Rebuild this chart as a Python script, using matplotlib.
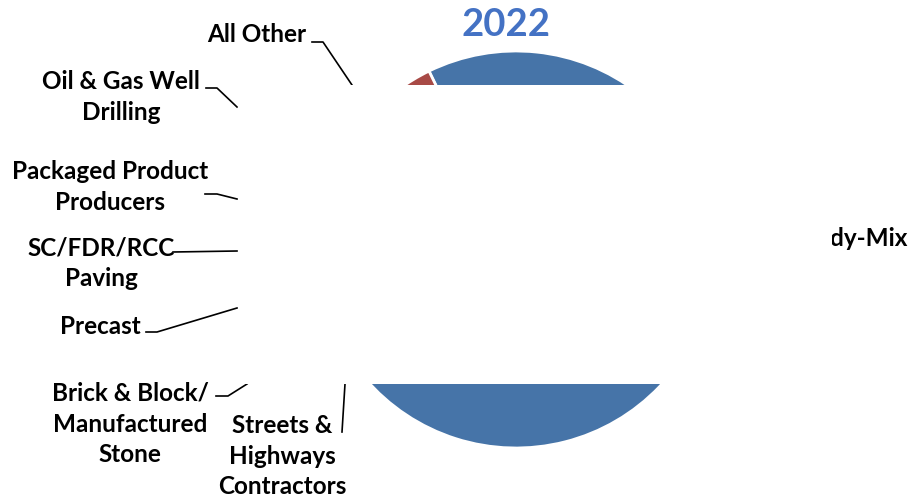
import matplotlib
matplotlib.use('Agg')
import matplotlib.pyplot as plt
from matplotlib.lines import Line2D
from matplotlib.patches import Rectangle

W, H = 909, 499

labels = ['Ready-Mix', 'Streets &\nHighways\nContractors', 'Brick & Block/\nManufactured\nStone',
          'Precast', 'SC/FDR/RCC\nPaving', 'Packaged Product\nProducers',
          'Oil & Gas Well\nDrilling', 'All Other']
shares = [71.0, 4.0, 3.5, 2.0, 3.0, 2.0, 3.0, 11.5]
colors = ['#4674A8', '#4F81BD', '#9BBB59', '#8064A2', '#4BACC6', '#F79646', '#2C4D75', '#A84A46']

# label text anchor (px, top origin), alignment and leader polyline
label_pos = [(907, 238), (282, 456), (130, 424), (100, 326), (101, 263), (110, 187), (121, 97), (257, 34)]
label_ha = ['right', 'center', 'center', 'center', 'center', 'center', 'center', 'center']
leaders = [None,
           [(342, 432), (345, 384)],
           [(216, 396), (228, 396), (247, 384)],
           [(146, 332), (157, 332), (237, 308)],
           [(173, 252), (237, 251)],
           [(205, 194), (217, 194), (237, 199)],
           [(206, 88), (217, 88), (237, 107)],
           [(312, 42), (323, 42), (352, 85)]]


def fx(x):
    return x / W


def fy(y):
    return 1 - y / H


fig = plt.figure(figsize=(W / 100, H / 100), dpi=100)
plt.rcParams['font.family'] = ['Lato', 'DejaVu Sans']

cx, cy, r = 516, 249.5, 198.5
ax = fig.add_axes([fx(cx - r), fy(cy + r), 2 * r / W, 2 * r / H])
ax.pie(shares, colors=colors, startangle=116, counterclock=False,
       wedgeprops=dict(edgecolor='white', linewidth=2))
ax.set_xlim(-1, 1)
ax.set_ylim(-1, 1)
ax.axis('off')

for name, (x, y), ha, pts in zip(labels, label_pos, label_ha, leaders):
    fig.text(fx(x), fy(y), name, ha=ha, va='center', fontsize=17.5,
             fontweight='bold', linespacing=1.42)
    if pts:
        fig.add_artist(Line2D([fx(p[0]) for p in pts], [fy(p[1]) for p in pts],
                              color='black', linewidth=1.2))

fig.text(fx(506), fy(25), '2022', ha='center', va='center', fontsize=27.5,
         fontweight='bold', color='#4472C4')

# white block covering the middle of the chart
fig.add_artist(Rectangle((fx(238), fy(384)), fx(832) - fx(238), fy(85) - fy(384),
                         facecolor='white', edgecolor='none', zorder=10))

fig.savefig('out.png', dpi=100)
